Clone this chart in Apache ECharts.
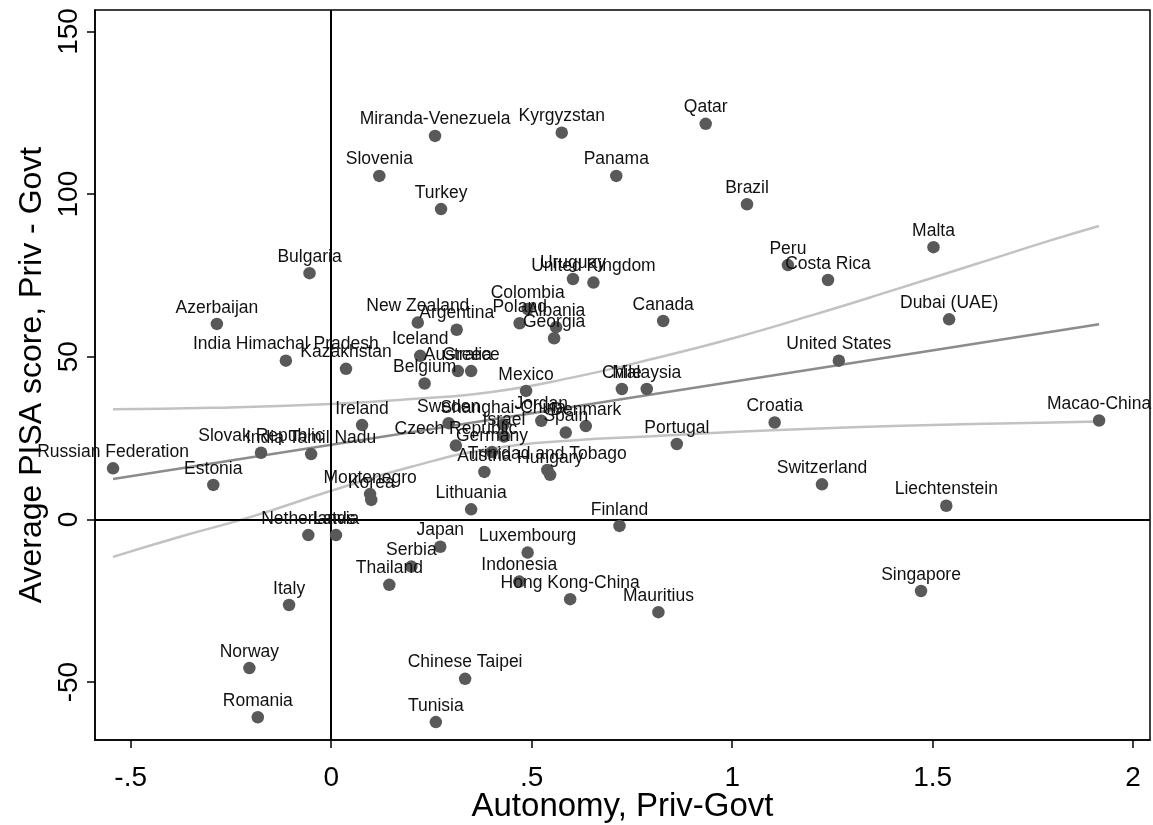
<!DOCTYPE html>
<html><head><meta charset="utf-8">
<script src="https://cdn.jsdelivr.net/npm/echarts@6/dist/echarts.min.js"></script>
<style>html,body{margin:0;padding:0;background:#fff}#c{width:1153px;height:825px}</style>
</head><body><div id="c"></div>
<script>
const countries = ["Russian Federation","Estonia","Slovak Republic","India Tamil Nadu","Ireland","Azerbaijan","Bulgaria","India Himachal Pradesh","Kazakhstan","New Zealand","Argentina","Iceland","Australia","Greece","Belgium","Mexico","Chile","Malaysia","Sweden","Shanghai-China","Israel","Czech Republic","Germany","Austria","Trinidad and Tobago","Hungary","Jordan","Spain","Denmark","Portugal","Lithuania","Montenegro","Korea","Netherlands","Latvia","Japan","Serbia","Thailand","Italy","Norway","Romania","Chinese Taipei","Tunisia","Luxembourg","Indonesia","Hong Kong-China","Mauritius","Finland","Switzerland","Macao-China","Liechtenstein","Singapore","Malta","Peru","Costa Rica","Canada","Dubai (UAE)","United States","Croatia","Miranda-Venezuela","Kyrgyzstan","Qatar","Slovenia","Panama","Turkey","Brazil","Uruguay","United Kingdom","Colombia","Poland","Albania","Georgia"];
const autonomy = [-0.544,-0.294,-0.175,-0.050,0.077,-0.285,-0.054,-0.113,0.037,0.216,0.313,0.222,0.316,0.349,0.233,0.486,0.725,0.787,0.293,0.429,0.431,0.311,0.401,0.382,0.539,0.546,0.524,0.585,0.635,0.862,0.349,0.097,0.100,-0.057,0.012,0.272,0.200,0.145,-0.105,-0.204,-0.183,0.334,0.261,0.490,0.469,0.596,0.816,0.719,1.224,1.915,1.534,1.471,1.502,1.139,1.239,0.828,1.541,1.266,1.106,0.259,0.575,0.934,0.120,0.711,0.274,1.037,0.603,0.654,0.490,0.470,0.561,0.556];
const pisaDiff = [15.7,10.6,20.5,20.1,29.0,60.1,75.7,48.8,46.3,60.5,58.3,50.3,45.6,45.6,41.8,39.5,40.1,40.1,29.6,29.1,25.5,22.7,20.7,14.6,15.2,13.7,30.3,26.7,28.7,23.2,3.1,7.8,6.0,-4.8,-4.8,-8.4,-14.5,-20.1,-26.3,-45.7,-60.8,-49.0,-62.3,-10.2,-19.1,-24.5,-28.5,-2.0,10.8,30.4,4.2,-22.0,83.7,78.2,73.6,61.0,61.5,48.8,29.8,117.9,118.9,121.6,105.6,105.6,95.4,96.9,73.9,72.8,64.7,60.3,59.1,55.7];

const fitX = [-0.544, 1.915];
const fitY = [12.4, 60.0];
const upperX = [-0.544,-0.3,0,0.2,0.4,0.6,0.8,1.0,1.2,1.4,1.6,1.8,1.915];
const upperY = [33.9,34.3,35.5,37.0,39.2,43.6,49.3,55.6,62.8,70.4,78.2,86.0,90.2];
const lowerX = [-0.544,-0.377,-0.2,0,0.2,0.4,0.6,0.8,1.0,1.2,1.4,1.6,1.8,1.915];
const lowerY = [-11.5,-5.3,0.8,8.8,16.2,21.8,24.3,25.6,26.9,27.9,28.7,29.3,29.8,30.1];

const xTicks = [-0.5,0,0.5,1,1.5,2];
const xTickLabels = ['-.5','0','.5','1','1.5','2'];
const yTicks = [-50,0,50,100,150];
const yTickLabels = ['-50','0','50','100','150'];

const pts = countries.map((c,i)=>({name:c, value:[autonomy[i], pisaDiff[i]]}));
const zip = (a,b)=>a.map((v,i)=>[v,b[i]]);
const axisFont = '"Liberation Sans", Arial, sans-serif';

const chart = echarts.init(document.getElementById('c'), null, {renderer:'canvas'});
chart.setOption({
  animation:false,
  backgroundColor:'#fff',
  grid:{left:95,right:3,top:10,bottom:85,show:true,borderColor:'#000',borderWidth:1.5,
    containLabel:false,outerBoundsMode:'none'},
  xAxis:{type:'value',min:-0.589,max:2.042,
    name:'Autonomy, Priv-Govt',nameLocation:'middle',nameGap:50,nameMoveOverlap:false,
    nameTextStyle:{fontFamily:axisFont,fontSize:33,color:'#000'},
    axisLine:{show:true,onZero:false,lineStyle:{color:'#000',width:1.5}},
    axisTick:{show:true,customValues:xTicks,length:8,lineStyle:{color:'#000',width:1.5}},
    axisLabel:{customValues:xTicks,margin:24,fontFamily:axisFont,fontSize:28,color:'#000',
      formatter:v=>xTickLabels[xTicks.indexOf(v)]},
    splitLine:{show:false}},
  yAxis:{type:'value',min:-67.8,max:156.6,
    name:'Average PISA score, Priv - Govt',nameLocation:'middle',nameGap:47,nameRotate:90,nameMoveOverlap:false,
    nameTextStyle:{fontFamily:axisFont,fontSize:32,color:'#000'},
    axisLine:{show:true,onZero:false,lineStyle:{color:'#000',width:1.5}},
    axisTick:{show:true,customValues:yTicks,length:8,lineStyle:{color:'#000',width:1.5}},
    axisLabel:{customValues:yTicks,rotate:90,margin:12,fontFamily:axisFont,fontSize:28,color:'#000',
      formatter:v=>yTickLabels[yTicks.indexOf(v)]},
    splitLine:{show:false}},
  series:[
    {type:'line',data:zip(upperX,upperY),smooth:true,showSymbol:false,z:2,
      lineStyle:{color:'#c2c2c2',width:2.5},silent:true,
      markLine:{silent:true,symbol:'none',label:{show:false},
        lineStyle:{color:'#000',width:2,type:'solid'},
        data:[{xAxis:0},{yAxis:0}]}},
    {type:'line',data:zip(lowerX,lowerY),smooth:true,showSymbol:false,z:2,
      lineStyle:{color:'#c2c2c2',width:2.5},silent:true},
    {type:'line',data:zip(fitX,fitY),showSymbol:false,z:2,
      lineStyle:{color:'#8c8c8c',width:2.5},silent:true},
    {type:'scatter',data:pts,symbolSize:12.5,z:5,
      itemStyle:{color:'#595959',opacity:1},
      label:{show:true,position:'top',distance:1,formatter:p=>p.name,
        fontFamily:'"Liberation Sans", Arial, sans-serif',fontSize:17.5,color:'#111'}}
  ]
});
</script></body></html>
